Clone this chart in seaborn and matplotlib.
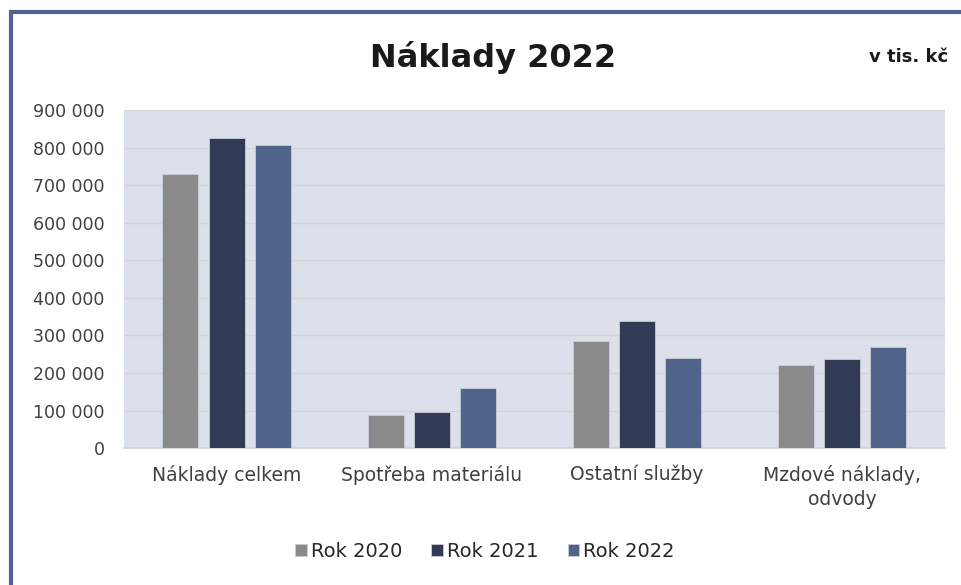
import matplotlib.pyplot as plt
import pandas as pd
import seaborn as sns
from matplotlib.patches import Rectangle
from matplotlib.ticker import FuncFormatter, MultipleLocator

kategorie = ["Náklady celkem", "Spotřeba materiálu", "Ostatní služby", "Mzdové náklady,\nodvody"]
roky = ["Rok 2020", "Rok 2021", "Rok 2022"]
rok_2020 = [730000, 87000, 285000, 220000]
rok_2021 = [825000, 97000, 338000, 236000]
rok_2022 = [808000, 161000, 241000, 268000]
barvy = ["#8a8a8a", "#333a56", "#51648c"]

df = pd.DataFrame({
    "kategorie": kategorie * 3,
    "rok": [r for r in roky for _ in kategorie],
    "naklady": rok_2020 + rok_2021 + rok_2022,
})

sns.set_theme(style="white")
plt.rcParams["font.family"] = ["DejaVu Sans"]

fig = plt.figure(figsize=(9.61, 5.85), dpi=100)
ax = fig.add_axes([0.129, 0.234, 0.854, 0.578])
ax.set_facecolor("#dce0ea")

sns.barplot(data=df, x="kategorie", y="naklady", hue="rok", hue_order=roky,
            palette=barvy, width=0.675, gap=0.22, edgecolor="#c8cdd8", linewidth=0.6,
            saturation=1, ax=ax, zorder=3)

ax.set_ylim(0, 900000)
ax.yaxis.set_major_locator(MultipleLocator(100000))
ax.yaxis.set_major_formatter(FuncFormatter(lambda v, p: f"{int(v):,}".replace(",", " ")))
ax.grid(axis="y", color="#d4d4d4", linewidth=1, zorder=0)
ax.set_axisbelow(True)
for s in ["top", "right", "left"]:
    ax.spines[s].set_visible(False)
ax.spines["bottom"].set_color("#d4d4d4")
ax.set_xlabel("")
ax.set_ylabel("")
ax.tick_params(axis="y", labelsize=12.5, labelcolor="#404040", length=0, pad=14)
ax.tick_params(axis="x", labelsize=13.5, labelcolor="#404040", length=0, pad=12)
for t in ax.get_xticklabels():
    t.set_linespacing(1.35)

ax.legend(loc="center", bbox_to_anchor=(0.44, -0.305), ncol=3, frameon=False,
          fontsize=14, handlelength=0.6, handleheight=0.6, handletextpad=0.2,
          columnspacing=1.5)

fig.text(0.513, 0.902, "Náklady 2022", ha="center", va="center", fontsize=23,
         fontweight="bold", color="#1a1a1a")
fig.text(0.987, 0.902, "v tis. kč", ha="right", va="center", fontsize=13,
         fontweight="bold", color="#1a1a1a")

fig.add_artist(Rectangle((0.011, -0.05), 1.1, 1.03, transform=fig.transFigure,
                         fill=False, edgecolor="#4f6494", linewidth=3, clip_on=False))

fig.savefig("out.png", dpi=100)
